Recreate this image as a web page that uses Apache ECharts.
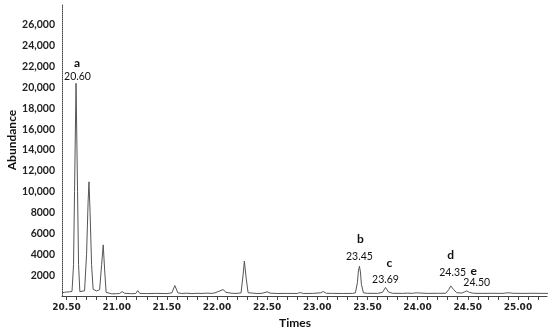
<!DOCTYPE html>
<html>
<head>
<meta charset="utf-8">
<script src="https://cdn.jsdelivr.net/npm/echarts@6/dist/echarts.min.js"></script>
<style>html,body{margin:0;padding:0;background:#fff}#c{width:550px;height:333px}</style>
</head>
<body>
<div id="c"></div>
<script>
// Retention times (min) and abundance of the chromatogram trace
const times = [
  20.455, 20.48, 20.50, 20.53, 20.555, 20.57, 20.58, 20.595, 20.61, 20.62, 20.633,
  20.65, 20.68, 20.70, 20.715, 20.724, 20.735, 20.75, 20.765, 20.78, 20.80, 20.83,
  20.85, 20.866, 20.88, 20.895, 20.91, 20.95, 21.00, 21.03, 21.055, 21.08, 21.15,
  21.19, 21.21, 21.23, 21.30, 21.40, 21.50, 21.55, 21.58, 21.61, 21.65, 21.70,
  21.75, 21.80, 21.85, 21.90, 21.95, 21.98, 22.02, 22.06, 22.09, 22.15, 22.20,
  22.24, 22.26, 22.273, 22.29, 22.31, 22.35, 22.40, 22.45, 22.50, 22.53, 22.60,
  22.70, 22.80, 22.83, 22.86, 22.95, 23.03, 23.06, 23.09, 23.15, 23.25, 23.35,
  23.38, 23.40, 23.41, 23.42, 23.43, 23.44, 23.46, 23.50, 23.60, 23.65, 23.68,
  23.71, 23.75, 23.85, 23.90, 23.95, 23.97, 23.98, 23.99, 24.00, 24.01, 24.02,
  24.03, 24.10, 24.20, 24.28, 24.31, 24.33, 24.36, 24.39, 24.44, 24.47, 24.49,
  24.52, 24.56, 24.65, 24.75, 24.85, 24.88, 24.89, 24.90, 24.91, 24.92, 24.93,
  24.95, 25.05, 25.15, 25.25, 25.30
];
const abundance = [
  320, 350, 380, 400, 450, 3000, 10000, 20400, 10000, 3000, 420,
  380, 500, 4000, 9000, 10950, 8000, 3000, 650, 640, 480, 600,
  3000, 4900, 2500, 350, 230, 210, 220, 250, 420, 260, 220,
  240, 520, 250, 230, 250, 230, 300, 1000, 300, 240, 270,
  230, 260, 240, 280, 250, 300, 450, 620, 350, 260, 250,
  300, 2000, 3350, 1800, 320, 280, 240, 260, 400, 270, 240,
  250, 240, 330, 240, 250, 300, 420, 260, 250, 240, 250,
  300, 1300, 2400, 2850, 2300, 1100, 300, 260, 250, 350, 820,
  380, 260, 250, 280, 250, 290, 210, 300, 210, 300, 220,
  280, 250, 260, 260, 600, 970, 600, 320, 280, 400, 490,
  330, 260, 250, 260, 250, 290, 210, 300, 210, 300, 220,
  260, 250, 260, 250, 250
];
// X tick labels and labelled peaks
const xTickLabels = [20.5, 21.0, 21.5, 22.0, 22.5, 23.0, 23.5, 24.0, 24.5, 25.0];
const peakLetters = ['a', 'b', 'c', 'd', 'e'];
const peakTimesLabel = ['20.60', '23.45', '23.69', '24.35', '24.50'];
const peakTimes = [20.595, 23.42, 23.68, 24.33, 24.49];
const peakValues = [20400, 2850, 820, 970, 490];

const letterOffsets = [[1, -20], [1, -27], [4, -24], [0, -31], [7, -20]];
const numberOffsets = [[1.5, -7], [0, -10], [0, -8], [2, -13], [10, -8]];

const minorTicks = [];
for (let i = 0; i <= 48; i++) minorTicks.push(+(20.5 + i * 0.1).toFixed(2));

const marks = [];
peakLetters.forEach((l, i) => {
  marks.push({
    coord: [peakTimes[i], peakValues[i]],
    label: { formatter: l, offset: letterOffsets[i], fontWeight: 'bold', fontSize: 12 }
  });
  marks.push({
    coord: [peakTimes[i], peakValues[i]],
    label: { formatter: peakTimesLabel[i], offset: numberOffsets[i], fontSize: 10.5 }
  });
});

const chart = echarts.init(document.getElementById('c'), null, { renderer: 'canvas' });
chart.setOption({
  animation: false,
  backgroundColor: '#fff',
  grid: { left: 62, right: 3, top: 4, bottom: 37, containLabel: false },
  xAxis: {
    type: 'value',
    min: 20.455,
    max: 25.29,
    axisLine: { show: true, lineStyle: { color: '#444', width: 1 } },
    axisTick: { show: true, length: 4, customValues: minorTicks, lineStyle: { color: '#444' } },
    axisLabel: {
      customValues: xTickLabels,
      formatter: v => v.toFixed(2),
      fontFamily: 'DejaVu Sans', fontWeight: 'bold', fontSize: 9, color: '#222', margin: 7
    },
    splitLine: { show: false }
  },
  yAxis: {
    type: 'value',
    min: 0,
    max: 28000,
    interval: 2000,
    axisLine: { show: true, lineStyle: { color: '#444', type: 'dotted', width: 1 } },
    axisTick: { show: false },
    axisLabel: {
      formatter: v => (v === 0 || v > 26000) ? '' : (v >= 10000 ? v.toLocaleString('en-US') : String(v)),
      fontFamily: 'Lato', fontWeight: 'bold', fontSize: 10.5, color: '#222', margin: 7
    },
    splitLine: { show: false }
  },
  series: [{
    type: 'line',
    data: times.map((t, i) => [t, abundance[i]]),
    showSymbol: false,
    clip: true,
    lineStyle: { color: '#555', width: 1 },
    markPoint: {
      symbol: 'circle',
      symbolSize: 0,
      label: { show: true, position: 'inside', color: '#111', fontFamily: 'Lato' },
      data: marks
    }
  }],
  graphic: [
    { type: 'text', x: 12, y: 140, rotation: Math.PI / 2,
      style: { text: 'Abundance', font: 'bold 12px Lato', fill: '#111', align: 'center', verticalAlign: 'middle' } },
    { type: 'text', x: 295, y: 323,
      style: { text: 'Times', font: 'bold 12px Lato', fill: '#111', align: 'center', verticalAlign: 'middle' } }
  ]
});
</script>
</body>
</html>
